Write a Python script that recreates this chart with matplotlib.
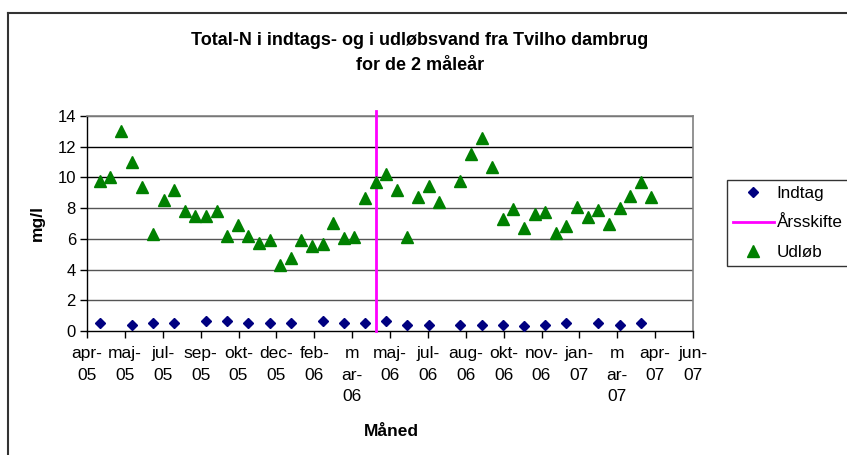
import matplotlib
matplotlib.use("Agg")
import matplotlib.pyplot as plt
import matplotlib.dates as mdates
from matplotlib.lines import Line2D
import numpy as np
import datetime as dt

plt.rcParams['font.family'] = ['Liberation Sans', 'DejaVu Sans']

# ---- data ----
udlob_dates = [
    "2005-04-25", "2005-05-09", "2005-05-23", "2005-06-06", "2005-06-20", "2005-07-04",
    "2005-07-18", "2005-08-01", "2005-08-15", "2005-08-29", "2005-09-12", "2005-09-26",
    "2005-10-10", "2005-10-24", "2005-11-07", "2005-11-21", "2005-12-05", "2005-12-19",
    "2006-01-02", "2006-01-16", "2006-01-30", "2006-02-13", "2006-02-27", "2006-03-13",
    "2006-03-27", "2006-04-10", "2006-04-24", "2006-05-08", "2006-05-22", "2006-06-05",
    "2006-06-19", "2006-07-03", "2006-07-17", "2006-08-14", "2006-08-28", "2006-09-11",
    "2006-09-25", "2006-10-09", "2006-10-23", "2006-11-06", "2006-11-20", "2006-12-04",
    "2006-12-18", "2007-01-01", "2007-01-15", "2007-01-29", "2007-02-12", "2007-02-26",
    "2007-03-12", "2007-03-26", "2007-04-09", "2007-04-23",
]
udlob_values = [
    9.8, 10.0, 13.0, 11.0, 9.4, 6.3, 8.5, 9.2, 7.8, 7.5, 7.5, 7.8,
    6.2, 6.9, 6.2, 5.7, 5.9, 4.3, 4.75, 5.9, 5.55, 5.65, 7.05, 6.05,
    6.15, 8.65, 9.7, 10.25, 9.2, 6.1, 8.75, 9.45, 8.4, 9.8, 11.5, 12.55,
    10.7, 7.3, 7.95, 6.7, 7.65, 7.75, 6.35, 6.85, 8.1, 7.4, 7.85, 6.95,
    8.0, 8.8, 9.7, 8.75,
]
indtag_dates = [
    "2005-04-25", "2005-06-06", "2005-07-04", "2005-08-01", "2005-09-12", "2005-10-10",
    "2005-11-07", "2005-12-05", "2006-01-02", "2006-02-13", "2006-03-13", "2006-04-10",
    "2006-05-08", "2006-06-05", "2006-07-03", "2006-08-14", "2006-09-11", "2006-10-09",
    "2006-11-06", "2006-12-04", "2007-01-01", "2007-02-12", "2007-03-12", "2007-04-09",
]
indtag_values = [
    0.52, 0.42, 0.52, 0.52, 0.62, 0.62, 0.52, 0.52, 0.52, 0.68, 0.52, 0.52,
    0.68, 0.42, 0.42, 0.42, 0.42, 0.42, 0.35, 0.42, 0.52, 0.52, 0.42, 0.52,
]
aarsskifte_date = ["2006-04-24", "2006-04-24"]
aarsskifte_values = [0.0, 14.3]

x_tick_labels = ["apr-\n05", "maj-\n05", "jul-\n05", "sep-\n05", "okt-\n05", "dec-\n05",
                 "feb-\n06", "m\nar-\n06", "maj-\n06", "jul-\n06", "aug-\n06", "okt-\n06",
                 "nov-\n06", "jan-\n07", "m\nar-\n07", "apr-\n07", "jun-\n07"]
x_axis_start = "2005-04-08"
x_tick_step_days = 50

title = "Total-N i indtags- og i udløbsvand fra Tvilho dambrug\nfor de 2 måleår"

# ---- plot ----
def to_num(lst):
    return [mdates.date2num(dt.datetime.strptime(s, "%Y-%m-%d")) for s in lst]

fig = plt.figure(figsize=(8.47, 4.55), dpi=100)
ax = fig.add_axes([87/847, 1 - 331/455, (693 - 87)/847, (331 - 116)/455])

x0 = mdates.date2num(dt.datetime.strptime(x_axis_start, "%Y-%m-%d"))
ticks = [x0 + i * x_tick_step_days for i in range(len(x_tick_labels))]
ax.set_xlim(ticks[0], ticks[-1])
ax.set_ylim(0, 14)

for yv in range(2, 15, 2):
    ax.axhline(yv, color='#000000' if yv in (10, 12) else '#555555', lw=1.0, zorder=1)

ax.plot(to_num(aarsskifte_date), aarsskifte_values, color='#ff00ff', lw=2.0,
        zorder=3, clip_on=False, label='Årsskifte')
ax.plot(to_num(indtag_dates), indtag_values, linestyle='none', marker='D', ms=5.5,
        color='#000080', mec='#000080', zorder=4, label='Indtag')
ax.plot(to_num(udlob_dates), udlob_values, linestyle='none', marker='^', ms=8,
        color='#008000', mec='#008000', zorder=4, label='Udløb')

ax.set_xticks(ticks)
ax.set_xticklabels(x_tick_labels, fontsize=12.5, linespacing=1.55, va='top')
ax.set_yticks(range(0, 15, 2))
ax.tick_params(axis='y', labelsize=12, length=5, width=1, direction='out', pad=3)
ax.tick_params(axis='x', length=5, width=1, direction='out', pad=6)

for side in ('top', 'right'):
    ax.spines[side].set_color('#808080')
    ax.spines[side].set_linewidth(1.2)
for side in ('left', 'bottom'):
    ax.spines[side].set_color('#000000')
    ax.spines[side].set_linewidth(1.0)

fig.text(420/847, 1 - 53/455, title, ha='center', va='center', fontsize=13,
         fontweight='bold', linespacing=1.6)
fig.text(37/847, 1 - 223/455, "mg/l", rotation=90, ha='center', va='center',
         fontsize=12.5, fontweight='bold')
fig.text(391/847, 1 - 431/455, "Måned", ha='center', va='center',
         fontsize=12.5, fontweight='bold')

handles = [
    Line2D([], [], linestyle='none', marker='D', ms=5.5, color='#000080'),
    Line2D([], [], color='#ff00ff', lw=2.0),
    Line2D([], [], linestyle='none', marker='^', ms=8, color='#008000'),
]
leg = fig.legend(handles, ['Indtag', 'Årsskifte', 'Udløb'],
                 loc='upper left', bbox_to_anchor=(727/847, 1 - 180/455),
                 fontsize=12.3, frameon=True, fancybox=False, borderpad=0.35,
                 handlelength=2.4, handletextpad=0.15, labelspacing=0.85,
                 borderaxespad=0)
leg.get_frame().set_edgecolor('#000000')
leg.get_frame().set_linewidth(1.0)

# chart-area border (cropped at right/bottom)
fig.add_artist(Line2D([8/847, 1.0], [1 - 13/455, 1 - 13/455], color='#333333', lw=1.5,
                      transform=fig.transFigure))
fig.add_artist(Line2D([8/847, 8/847], [1 - 13/455, 0.0], color='#333333', lw=1.5,
                      transform=fig.transFigure))

fig.savefig("out.png", dpi=100)
